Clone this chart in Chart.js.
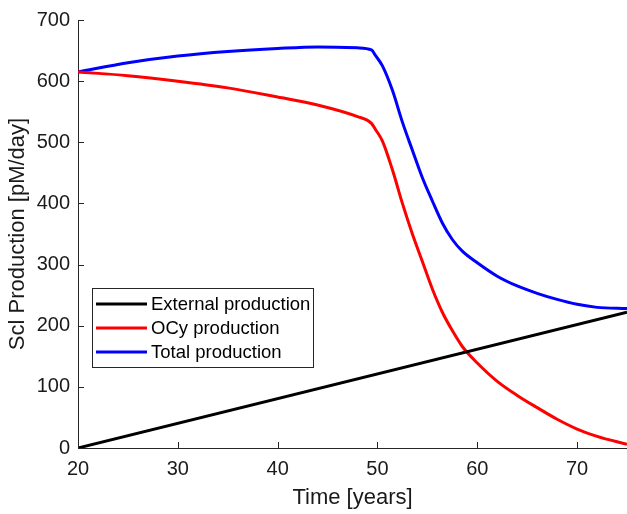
<!DOCTYPE html>
<html>
<head>
<meta charset="utf-8">
<script src="https://cdn.jsdelivr.net/npm/chart.js@4.4.1/dist/chart.umd.min.js"></script>
<style>
    body { margin: 0; background: #fff; }
    #wrap { width: 627px; height: 514px; }
</style>
</head>
<body>
<div id="wrap"><canvas id="prodChart" width="627" height="514"></canvas></div>
<script>
// Sampled time points (years) for the OCy and total curves
const years = [20, 25, 30, 35, 40, 44, 48, 49.4, 49.8, 50.5, 51.5, 52.5, 53.5, 54.5, 55.5, 56.5, 57.5, 58.5, 60, 62, 64, 66, 68, 70, 72, 75];
const ocyProduction = [615, 609, 600, 589, 574, 561, 542, 531, 521, 502, 455, 400, 350, 305, 260, 222, 192, 166, 139, 109, 86, 66, 47, 31, 19, 6];
const totalProduction = [615, 630, 641, 648.5, 653.5, 656, 654.5, 651, 642, 625, 585, 533, 487, 442, 404, 368, 341, 322, 303, 281, 265, 253, 243, 235, 230, 228];

// External production is a straight line
const externalYears = [20, 75];
const externalProduction = [0, 222];

const xTicks = [20, 30, 40, 50, 60, 70];
const yTicks = [0, 100, 200, 300, 400, 500, 600, 700];

const axisColor = '#262626';

function toPoints(xs, ys) {
    return xs.map((x, i) => ({ x: x, y: ys[i] }));
}

// MATLAB style ticks point into the plot area
const inwardTicks = {
    id: 'inwardTicks',
    afterDatasetsDraw(chart) {
        const ctx = chart.ctx;
        const area = chart.chartArea;
        const xs = chart.scales.x;
        const ys = chart.scales.y;
        ctx.save();
        ctx.strokeStyle = axisColor;
        ctx.lineWidth = 1;
        ctx.beginPath();
        xTicks.forEach(t => {
            const px = Math.round(xs.getPixelForValue(t)) + 0.5;
            ctx.moveTo(px, area.bottom);
            ctx.lineTo(px, area.bottom - 6);
        });
        yTicks.forEach(t => {
            const py = Math.round(ys.getPixelForValue(t)) + 0.5;
            ctx.moveTo(area.left, py);
            ctx.lineTo(area.left + 6, py);
        });
        ctx.stroke();
        ctx.restore();
    }
};

// Boxed legend inside the plot, lower left
const boxLegend = {
    id: 'boxLegend',
    afterDraw(chart) {
        const ctx = chart.ctx;
        const bx = 92, by = 288, bw = 221, bh = 79;
        ctx.save();
        ctx.fillStyle = '#fff';
        ctx.fillRect(bx, by, bw, bh);
        ctx.strokeStyle = axisColor;
        ctx.lineWidth = 1;
        ctx.strokeRect(bx + 0.5, by + 0.5, bw, bh);
        ctx.font = "18.5px 'Liberation Sans', Arial, sans-serif";
        ctx.textBaseline = 'middle';
        chart.data.datasets.forEach((ds, i) => {
            const rowY = by + 16 + i * 24;
            ctx.strokeStyle = ds.borderColor;
            ctx.lineWidth = 3;
            ctx.beginPath();
            ctx.moveTo(bx + 4, rowY);
            ctx.lineTo(bx + 55, rowY);
            ctx.stroke();
            ctx.fillStyle = '#000';
            ctx.fillText(ds.label, bx + 59, rowY + 1);
        });
        ctx.restore();
    }
};

Chart.defaults.font.family = "'Liberation Sans', Arial, sans-serif";
Chart.defaults.color = axisColor;

new Chart(document.getElementById('prodChart'), {
    type: 'line',
    data: {
        datasets: [
            {
                label: 'External production',
                data: toPoints(externalYears, externalProduction),
                borderColor: '#000000',
                borderWidth: 3,
                pointRadius: 0
            },
            {
                label: 'OCy production',
                data: toPoints(years, ocyProduction),
                borderColor: '#ff0000',
                borderWidth: 3,
                pointRadius: 0,
                cubicInterpolationMode: 'monotone'
            },
            {
                label: 'Total production',
                data: toPoints(years, totalProduction),
                borderColor: '#0000ff',
                borderWidth: 3,
                pointRadius: 0,
                cubicInterpolationMode: 'monotone'
            }
        ]
    },
    options: {
        responsive: false,
        animation: false,
        layout: { padding: { top: 19, right: 0, bottom: 0, left: 0 } },
        plugins: {
            legend: { display: false },
            tooltip: { enabled: false }
        },
        scales: {
            x: {
                type: 'linear',
                min: 20,
                max: 75,
                afterFit: scale => { scale.height = 66; },
                afterBuildTicks: scale => { scale.ticks = xTicks.map(v => ({ value: v })); },
                grid: { drawOnChartArea: false, drawTicks: false },
                border: { display: true, color: axisColor, width: 1 },
                ticks: { font: { size: 20 }, padding: 9, color: '#1a1a1a' },
                title: {
                    display: true,
                    text: 'Time [years]',
                    font: { size: 22 },
                    color: '#1a1a1a',
                    padding: { top: 0, bottom: 3 }
                }
            },
            y: {
                min: 0,
                max: 700,
                afterFit: scale => { scale.width = 78; },
                afterBuildTicks: scale => { scale.ticks = yTicks.map(v => ({ value: v })); },
                grid: { drawOnChartArea: false, drawTicks: false },
                border: { display: true, color: axisColor, width: 1 },
                ticks: { font: { size: 20 }, padding: 8, color: '#1a1a1a' },
                title: {
                    display: true,
                    text: 'Scl Production [pM/day]',
                    font: { size: 22 },
                    color: '#1a1a1a',
                    padding: { top: 5, bottom: 0 }
                }
            }
        }
    },
    plugins: [inwardTicks, boxLegend]
});
</script>
</body>
</html>
